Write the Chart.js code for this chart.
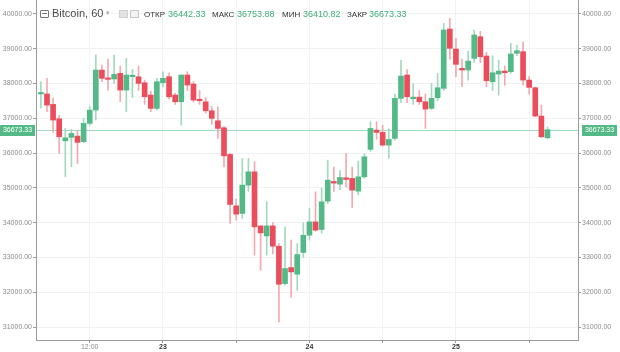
<!DOCTYPE html>
<html>
<head>
<meta charset="utf-8">
<script src="https://cdn.jsdelivr.net/npm/chart.js@4.4.1/dist/chart.umd.min.js"></script>
<style>
  html, body { margin: 0; padding: 0; background: #fff; }
  #wrap { position: relative; width: 620px; height: 352px; overflow: hidden; }
  #chart { position: absolute; left: 0; top: 0; }
  .hd { position: absolute; top: 8px; line-height: 12px; font-family: "Liberation Sans", Arial, sans-serif; white-space: nowrap; }
  .sym { font-size: 11px; color: #4a4a4a; top: 7px; }
  .lbl { font-size: 8px; color: #333; top: 9px; }
  .val { font-size: 9px; color: #3fae78; top: 8px; }
  .ico { position: absolute; box-sizing: border-box; }
</style>
</head>
<body>
<div id="wrap">
  <canvas id="chart" width="620" height="352"></canvas>
  <div class="ico" style="left:40px;top:10px;width:9px;height:8px;border:1px solid #777;border-radius:1px;"></div>
  <div class="ico" style="left:42px;top:13px;width:5px;height:1px;background:#777;"></div>
  <div class="hd sym" style="left:52px;">Bitcoin, 60</div>
  <div class="hd" style="left:106px;top:7px;font-size:7px;color:#aaa;">▾</div>
  <div class="ico" style="left:119px;top:10px;width:9px;height:8px;background:#e2e2e2;border:1px solid #d0d0d0;"></div>
  <div class="ico" style="left:130px;top:10px;width:9px;height:8px;background:#f2f2f2;border:1px solid #c8c8c8;"></div>
  <div class="hd lbl" style="left:144px;">ОТКР</div>
  <div class="hd val" style="left:168px;" id="vOpen"></div>
  <div class="hd lbl" style="left:212px;">МАКС</div>
  <div class="hd val" style="left:237px;" id="vHigh"></div>
  <div class="hd lbl" style="left:282px;">МИН</div>
  <div class="hd val" style="left:303px;" id="vLow"></div>
  <div class="hd lbl" style="left:347px;">ЗАКР</div>
  <div class="hd val" style="left:369px;" id="vClose"></div>
</div>
<script>
// Bitcoin, 1h candles, 22 (04:00) .. 25 (15:00)
const startHour = 4;   // first candle = day 22, 04:00

const opens  = [37700, 37700, 37400, 36987, 36354, 36452, 36489, 36330, 36855, 37237,
                38388, 38150, 38130, 38294, 37813, 38196, 38196, 38023, 37669, 37286,
                38023, 38196, 37669, 37476, 38245, 37986, 37525, 37476, 37217, 36930,
                36728, 35962, 34484, 34265, 35079, 35462, 33908, 33620, 33908, 33324,
                32250, 32710, 32518, 33143, 33640, 34023, 33804, 34619, 35186, 35108,
                35290, 35272, 34906, 35318, 36107, 36662, 36596, 36230, 36423, 37574,
                38245, 37563, 37610, 37476, 37286, 37592, 37862, 39568, 38993, 38437,
                38388, 38725, 39347, 38791, 38052, 38273, 38360, 38340, 38869, 38915,
                38100, 37880, 37065, 36442.33];
const highs  = [38050, 38150, 37580, 37093, 36710, 36682, 36662, 36999, 37350, 38820,
                38532, 38700, 38820, 38500, 38725, 38400, 38500, 38100, 37780, 38150,
                38340, 38300, 37720, 38245, 38340, 38050, 37800, 37600, 37340, 37333,
                36760, 36000, 34680, 35847, 35847, 35750, 33908, 34600, 34000, 33400,
                33879, 33500, 33400, 34000, 34409, 34887, 35000, 35798, 35600, 35500,
                35991, 35600, 35770, 35990, 36900, 36900, 36800, 36700, 37700, 38676,
                38400, 38000, 37800, 37700, 38000, 38294, 39732, 39876, 39300, 38700,
                38935, 39540, 39500, 38900, 38800, 38676, 38500, 39157, 39100, 39200,
                38200, 37900, 37381, 36753.88];
const lows   = [37290, 37190, 36600, 35991, 35318, 35606, 35703, 36300, 36800, 36950,
                38052, 37813, 38005, 37477, 37189, 37600, 37800, 37400, 37190, 37240,
                37900, 37550, 37400, 36806, 37800, 37470, 37400, 37150, 36830, 36423,
                35606, 33977, 34072, 34120, 34900, 33065, 32633, 33065, 33100, 31145,
                32200, 31848, 32057, 33000, 33500, 33750, 33700, 34550, 34900, 34950,
                35030, 34437, 34800, 35280, 36050, 36400, 36200, 35847, 36380, 37450,
                37450, 37400, 37400, 36711, 37250, 37500, 37800, 38700, 38200, 37907,
                38100, 38600, 38600, 37907, 37800, 37669, 37950, 38300, 38800, 37950,
                37700, 37050, 36440, 36410.82];
const closes = [37720, 37381, 36950, 36469, 36440, 36567, 36308, 36855, 37237, 38388,
                38150, 38120, 38265, 37813, 38245, 38216, 38005, 37620, 37286, 38052,
                38150, 37620, 37476, 38245, 37957, 37525, 37505, 37217, 36999, 36710,
                35922, 34524, 34245, 35079, 35462, 33879, 33706, 33908, 33324, 32230,
                32683, 32585, 33085, 33640, 34023, 33784, 34599, 35223, 35137, 35300,
                35243, 34935, 35318, 35894, 36710, 36596, 36230, 36394, 37574, 38216,
                37620, 37610, 37476, 37266, 37574, 37880, 39540, 39013, 38553, 38388,
                38647, 39396, 38771, 38081, 38311, 38360, 38311, 38849, 38945, 38100,
                37890, 37065, 36469, 36673.33];

// axis ticks
const priceTicks = [31000, 32000, 33000, 34000, 35000, 36000, 37000, 38000, 39000, 40000];
const timeTicks  = [12, 24, 36, 48, 60, 72, 84];
const timeLabels = ['12:00', '23', '', '24', '', '25', ''];
const dayTicks   = [24, 48, 72];

const upColor = '#53b987';
const downColor = '#eb4d5c';
const upWick = '#a3d9bd';
const downWick = '#f3a9b0';
const axisColor = '#9b9b9b';
const gridColor = '#eff1f4';
const fontFamily = '"Liberation Sans", Arial, sans-serif';

const last = closes.length - 1;
document.getElementById('vOpen').textContent = opens[last].toFixed(2);
document.getElementById('vHigh').textContent = highs[last].toFixed(2);
document.getElementById('vLow').textContent = lows[last].toFixed(2);
document.getElementById('vClose').textContent = closes[last].toFixed(2);

const hours = opens.map((_, i) => startHour + i);
const isUp = opens.map((o, i) => closes[i] >= o);
const isDay = c => !!(c && c.tick && dayTicks.includes(c.tick.value));

// линия и метки последней цены
const lastPricePlugin = {
    id: 'lastPrice',
    beforeDatasetsDraw(chart) {
        const { ctx, chartArea, scales } = chart;
        const y = Math.round(scales.y.getPixelForValue(closes[last])) + 0.5;
        ctx.save();
        ctx.strokeStyle = 'rgba(83, 185, 135, 0.55)';
        ctx.lineWidth = 1;
        ctx.beginPath();
        ctx.moveTo(chartArea.left, y);
        ctx.lineTo(chartArea.right, y);
        ctx.stroke();
        ctx.restore();
    },
    afterDraw(chart) {
        const { ctx, chartArea, scales } = chart;
        const y = Math.round(scales.y.getPixelForValue(closes[last]));
        const text = closes[last].toFixed(2);
        ctx.save();
        ctx.fillStyle = upColor;
        ctx.fillRect(0, y - 5, 35, 11);
        ctx.fillRect(chartArea.right + 4, y - 5, 35, 11);
        ctx.fillStyle = '#fff';
        ctx.font = '7px ' + fontFamily;
        ctx.textBaseline = 'middle';
        ctx.textAlign = 'center';
        ctx.fillText(text, 17.5, y + 0.5);
        ctx.fillText(text, chartArea.right + 21.5, y + 0.5);
        ctx.restore();
    }
};

function priceAxis(position, width) {
    return {
        type: 'linear',
        position: position,
        min: 30627,
        max: 40402,
        afterBuildTicks: s => { s.ticks = priceTicks.map(v => ({ value: v })); },
        afterFit: s => { s.width = width; s.paddingTop = 0; s.paddingBottom = 0; },
        border: { color: axisColor, width: 1 },
        grid: {
            color: gridColor,
            tickColor: axisColor,
            tickLength: 3,
            drawOnChartArea: position === 'left'
        },
        ticks: {
            color: '#8c8c8c',
            padding: 1,
            font: { family: fontFamily, size: 7 },
            callback: v => v.toFixed(2)
        }
    };
}

new Chart(document.getElementById('chart').getContext('2d'), {
    type: 'bar',
    data: {
        datasets: [{
            label: 'body',
            order: 0,
            grouped: false,
            data: hours.map((h, i) => ({ x: h, y: [opens[i], closes[i]] })),
            backgroundColor: isUp.map(u => u ? upColor : downColor),
            borderWidth: 0,
            barThickness: 5,
            minBarLength: 1.5
        }, {
            label: 'wick',
            order: 1,
            grouped: false,
            data: hours.map((h, i) => ({ x: h, y: [lows[i], highs[i]] })),
            backgroundColor: isUp.map(u => u ? upWick : downWick),
            borderWidth: 0,
            barThickness: 1
        }]
    },
    options: {
        responsive: false,
        animation: false,
        events: [],
        layout: { padding: 0 },
        plugins: {
            legend: { display: false },
            tooltip: { enabled: false }
        },
        scales: {
            x: {
                type: 'linear',
                offset: false,
                min: 3.2,
                max: 92,
                afterBuildTicks: s => { s.ticks = timeTicks.map(v => ({ value: v })); },
                afterFit: s => { s.height = 12; s.paddingLeft = 0; s.paddingRight = 0; },
                border: { color: axisColor, width: 1 },
                grid: {
                    offset: false,
                    color: gridColor,
                    tickColor: axisColor,
                    tickLength: 3
                },
                ticks: {
                    autoSkip: false,
                    maxRotation: 0,
                    padding: 0,
                    color: c => isDay(c) ? '#333' : '#8c8c8c',
                    font: c => ({
                        family: fontFamily,
                        size: 7,
                        weight: isDay(c) ? 'bold' : 'normal'
                    }),
                    callback: v => timeLabels[timeTicks.indexOf(v)] || ''
                }
            },
            y: priceAxis('left', 36),
            y2: priceAxis('right', 42)
        }
    },
    plugins: [lastPricePlugin]
});
</script>
</body>
</html>
